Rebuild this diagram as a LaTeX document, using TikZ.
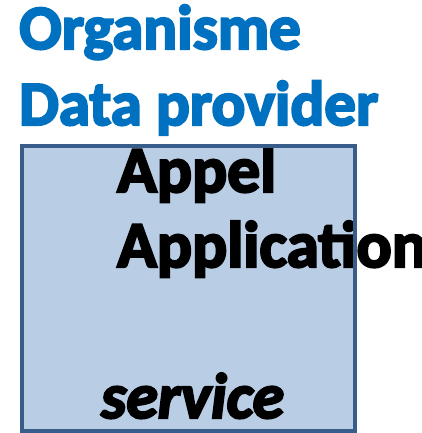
\documentclass[tikz,border=0pt]{standalone}
\usepackage{fontspec}
\setmainfont{Carlito}
\newfontfamily\calbold{Carlito Bold}[FakeBold=3.5]
\newfontfamily\calbolditalic{Carlito Bold Italic}[FakeBold=3.5]
\definecolor{titleblue}{HTML}{0070C0}
\definecolor{boxfill}{HTML}{B9CDE5}
\definecolor{boxline}{HTML}{385D8A}
\begin{document}
\begin{tikzpicture}[x=1pt,y=-1pt,
  title/.style={anchor=base west,inner sep=0pt,text depth=0pt,text=titleblue,font=\fontsize{63}{63}\calbold},
  label/.style={anchor=base west,inner sep=0pt,text depth=0pt,text=black,font=\fontsize{65.5}{65.5}\calbold},
  boxstyle/.style={draw=boxline,line width=3.5pt}]
\useasboundingbox (0,0) rectangle (421,433);
\fill[boxfill] (22,146) rectangle (355,431);
\node[title] (t1) at (19,49) {Organisme};
\node[title] (t2) at (19,125) {Data provider};
\node[label] (a1) at (117,192) {Appel};
\node[label] (a2) at (117,267) {Application};
\node[label,font=\fontsize{64}{64}\calbolditalic] (s) at (101,418) {service};
\draw[boxstyle] (22,146) rectangle (355,431);
\end{tikzpicture}
\end{document}
